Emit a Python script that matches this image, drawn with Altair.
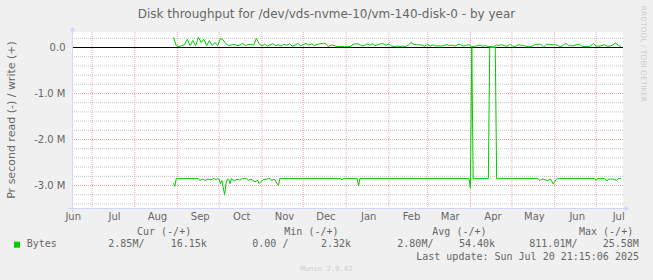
import altair as alt
import pandas as pd

# ---------------- data (values in M bytes/s) ----------------
write_start = "2024-08-29"          # one value every 2 days
write_vals = [
    0.22, 0.04, 0.02, 0.04, 0.06, 0.18, 0.04, 0.15, 0.04, 0.22,
    0.11, 0.18, 0.04, 0.15, 0.04, 0.11, 0.04, 0.20, 0.16, 0.08,
    0.04, 0.06, 0.07, 0.04, 0.05, 0.09, 0.04, 0.06, 0.07, 0.05,
    0.20, 0.08, 0.04, 0.07, 0.03, 0.06, 0.08, 0.04, 0.06, 0.03,
    0.07, 0.05, 0.08, 0.03, 0.05, 0.09, 0.04, 0.06, 0.09, 0.05,
    0.08, 0.04, 0.07, 0.08, 0.09, 0.09, 0.02, 0.05, 0.05, 0.02,
    0.02, 0.02, 0.02, 0.02, 0.02, 0.07, 0.08, 0.08, 0.04, 0.04,
    0.08, 0.05, 0.08, 0.04, 0.06, 0.08, 0.08, 0.05, 0.08, 0.03,
    0.02, 0.03, 0.02, 0.03, 0.02, 0.05, 0.11, 0.07, 0.06, 0.06,
    0.05, 0.03, 0.07, 0.03, 0.06, 0.03, 0.04, 0.03, 0.05, 0.06,
    0.04, 0.05, 0.03, 0.07, 0.06, 0.03, 0.05, 0.06, 0.02, 0.02,
    0.04, 0.05, 0.03, 0.04, 0.02, 0.02, 0.02, 0.05, 0.05, 0.06,
    0.03, 0.03, 0.07, 0.02, 0.03, 0.06, 0.04, 0.04, 0.02, 0.02,
    0.03, 0.07, 0.07, 0.07, 0.01, 0.07, 0.07, 0.06, 0.06, 0.05,
    0.02, 0.04, 0.10, 0.04, 0.04, 0.04, 0.07, 0.07, 0.02, 0.02,
    0.02, 0.03, 0.09, 0.03, 0.03, 0.04, 0.06, 0.03, 0.03, 0.05,
    0.10, 0.05, 0.02,
]

read_dates = [
    "2024-08-29", "2024-08-30", "2024-08-31", "2024-09-16", "2024-09-17",
    "2024-09-19", "2024-09-21", "2024-09-23", "2024-09-25", "2024-09-27",
    "2024-09-29", "2024-09-30", "2024-10-01", "2024-10-02", "2024-10-03",
    "2024-10-05", "2024-10-06", "2024-10-07", "2024-10-08", "2024-10-09",
    "2024-10-10", "2024-10-12", "2024-10-14", "2024-10-16", "2024-10-18",
    "2024-10-21", "2024-10-22", "2024-10-24", "2024-10-27", "2024-10-29",
    "2024-10-30", "2024-11-02", "2024-11-07", "2024-11-08", "2024-11-10",
    "2024-11-13", "2024-11-14", "2024-12-28", "2024-12-29", "2024-12-30",
    "2025-01-09", "2025-01-10", "2025-01-11", "2025-03-31", "2025-04-01",
    "2025-04-02", "2025-04-03", "2025-04-14", "2025-04-15", "2025-04-19",
    "2025-04-20", "2025-05-20", "2025-05-21", "2025-05-23", "2025-05-27",
    "2025-05-29", "2025-05-31", "2025-06-02", "2025-06-03", "2025-06-30",
    "2025-07-01", "2025-07-02", "2025-07-07", "2025-07-09", "2025-07-10",
    "2025-07-13", "2025-07-16", "2025-07-17", "2025-07-19",
]
read_vals = [
    -2.95, -3.02, -2.85, -2.85, -2.89,
    -2.86, -2.89, -2.86, -2.88, -2.85,
    -2.87, -2.85, -2.86, -2.96, -2.89,
    -3.20, -2.96, -2.86, -2.87, -2.96,
    -2.85, -2.90, -2.86, -2.88, -2.85,
    -2.85, -2.89, -2.86, -2.92, -2.89,
    -2.96, -2.87, -2.85, -2.89, -2.86,
    -3.00, -2.85, -2.85, -2.88, -2.85,
    -2.85, -3.01, -2.85, -2.85, -3.06,
    0.00, -2.85, -2.85, 0.00, 0.00,
    -2.85, -2.85, -2.89, -2.86, -2.89,
    -2.86, -2.97, -2.87, -2.85, -2.85,
    -2.89, -2.85, -2.85, -2.90, -2.86,
    -2.86, -2.89, -2.85, -2.85,
]

minor_grid = [-3.4, -3.2, -2.8, -2.6, -2.4, -2.2, -1.8, -1.6, -1.4, -1.2,
              -0.8, -0.6, -0.4, -0.2, 0.2]
major_grid = [-3.0, -2.0, -1.0]
y_ticks = [-3.0, -2.0, -1.0, 0.0]
month_lines = ["2024-07-01", "2024-08-01", "2024-09-01", "2024-10-01", "2024-11-01",
               "2024-12-01", "2025-01-01", "2025-02-01", "2025-03-01", "2025-04-01",
               "2025-05-01", "2025-06-01", "2025-07-01"]
label_months = [(2024, 6), (2024, 7), (2024, 8), (2024, 9), (2024, 10), (2024, 11),
                (2024, 12), (2025, 1), (2025, 2), (2025, 3), (2025, 4), (2025, 5),
                (2025, 6), (2025, 7)]

title_text = "Disk throughput for /dev/vds-nvme-10/vm-140-disk-0 - by year"
y_title = "Pr second read (-) / write (+)"
legend_headers = ["Cur (-/+)", "Min (-/+)", "Avg (-/+)", "Max (-/+)"]
legend_values = ["2.85M/", "16.15k", "0.00 /", "2.32k", "2.80M/", "54.40k",
                 "811.01M/", "25.58M"]
series_name = "Bytes"
last_update = "Last update: Sun Jul 20 21:15:06 2025"
munin_text = "Munin 2.0.42"
rrd_text = "RRDTOOL / TOBI OETIKER"

# ---------------- tables ----------------
write_df = pd.DataFrame({
    "date": pd.date_range(write_start, periods=len(write_vals), freq="2D"),
    "v": write_vals,
})
read_df = pd.DataFrame({"date": pd.to_datetime(read_dates), "v": read_vals})
months_df = pd.DataFrame({"date": pd.to_datetime(month_lines)})
minor_df = pd.DataFrame({"v": minor_grid})
major_df = pd.DataFrame({"v": major_grid})
zero_df = pd.DataFrame({"v": [0.0]})
dummy = pd.DataFrame({"k": [0]})

GREEN = "#00cc00"
FONT = "#666666"
AXISC = "#cfd6f8"
MGRID = "#f3a6a6"
GRID = "#c4c4c4"

x_scale = alt.Scale(domain=[alt.DateTime(year=2024, month=6, date=16, hours=12),
                            alt.DateTime(year=2025, month=7, date=20, hours=12)])
x_axis = alt.Axis(
    values=[alt.DateTime(year=y, month=m, date=17) for y, m in label_months],
    format="%b", grid=False, domain=False, ticks=False, tickSize=0,
    labelPadding=3, labelFont="DejaVu Sans", labelFontSize=10, labelColor=FONT,
    labelFlush=False, labelOverlap=False, title=None,
)
x_enc = alt.X("date:T", scale=x_scale, axis=x_axis, title=None)

# domain chosen so that whole-M grid lines fall on pixel centres
y_scale = alt.Scale(domain=[-3.489, 0.337], nice=False, zero=False)
y_axis = alt.Axis(
    values=y_ticks, grid=False, domain=False, ticks=False, tickSize=0,
    labelPadding=7, labelFont="DejaVu Sans", labelFontSize=10, labelColor=FONT,
    labelExpr="datum.value == 0 ? '0.0\u00a0\u00a0' : '-' + format(abs(datum.value), '.1f') + ' M'",
    labelOverlap=False, title=None,
)
y_enc = alt.Y("v:Q", scale=y_scale, axis=y_axis, title=None)

layers = []
layers.append(alt.Chart(minor_df).mark_rule(color=GRID, strokeDash=[1, 1], strokeWidth=1).encode(y=y_enc))
layers.append(alt.Chart(major_df).mark_rule(color=MGRID, strokeDash=[1, 1], strokeWidth=1).encode(y=y_enc))
layers.append(alt.Chart(months_df).mark_rule(color=MGRID, strokeDash=[1, 1], strokeWidth=1).encode(x=x_enc))
layers.append(alt.Chart(zero_df).mark_rule(color="#000000", strokeWidth=1).encode(y=y_enc))
layers.append(alt.Chart(read_df).mark_line(color=GREEN, strokeWidth=1, clip=True).encode(x=x_enc, y=y_enc))
layers.append(alt.Chart(write_df).mark_line(color=GREEN, strokeWidth=1, clip=True).encode(x=x_enc, y=y_enc))

# axis lines with arrows (pixel layout)
layers.append(alt.Chart(dummy).mark_rule(color=AXISC, strokeWidth=1).encode(
    x=alt.value(0.5), y=alt.value(-2), y2=alt.value(180)))
layers.append(alt.Chart(dummy).mark_rule(color=AXISC, strokeWidth=1).encode(
    x=alt.value(-4), x2=alt.value(554), y=alt.value(176.5)))
layers.append(alt.Chart(dummy).mark_point(shape="triangle-up", filled=True, size=28, color=AXISC, opacity=1).encode(
    x=alt.value(0.5), y=alt.value(-3)))
layers.append(alt.Chart(dummy).mark_point(shape="triangle-right", filled=True, size=28, color=AXISC, opacity=1).encode(
    x=alt.value(555), y=alt.value(176.5)))


def txt(text, x, y, size=10, font="DejaVu Sans Mono", color=FONT, align="left", angle=0):
    return alt.Chart(dummy).mark_text(
        text=text, font=font, fontSize=size, color=color, align=align,
        baseline="middle", angle=angle,
    ).encode(x=alt.value(x), y=alt.value(y))


layers.append(txt(title_text, 254.5, -18, size=12, font="DejaVu Sans", align="center"))
layers.append(txt(y_title, -60, 88, size=11, font="DejaVu Sans", align="center", angle=270))
layers.append(txt(rrd_text, 570.5, 22, size=7.5, font="DejaVu Sans", color="#cccccc", align="center", angle=90))

header_x = [65, 212.3, 360.3, 507]
for h, hx in zip(legend_headers, header_x):
    layers.append(txt(h, hx, 200.3))
value_x = [36.3, 98.7, 180.3, 249, 325.3, 387, 457.3, 530.7]
for v, vx in zip(legend_values, value_x):
    layers.append(txt(v, vx, 212.4))
layers.append(alt.Chart(dummy).mark_square(size=36, color=GREEN, opacity=1).encode(
    x=alt.value(-55), y=alt.value(212.7)))
layers.append(txt(series_name, -45.3, 212.4))
layers.append(txt(last_update, 567, 224.6, align="right"))
layers.append(txt(munin_text, 254.5, 237.3, size=7.2, color="#cccccc", align="center"))

chart = alt.layer(*layers).properties(
    width=551, height=176,
    padding={"left": 72, "top": 32, "right": 30, "bottom": 72},
    autosize=alt.AutoSizeParams(type="none"),
    background="#f0f0f0",
).configure_view(fill="white", strokeWidth=0)

chart.save("out.html", embed_options={"renderer": "svg", "actions": False})
